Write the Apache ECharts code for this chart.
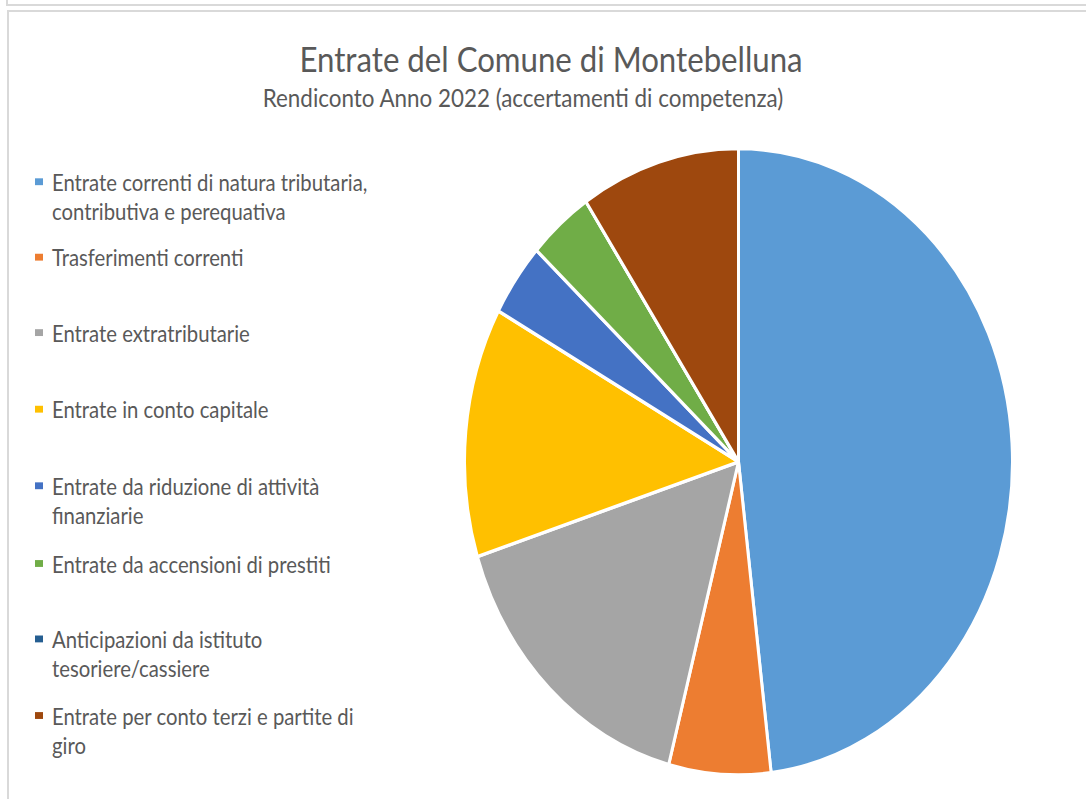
<!doctype html>
<html lang="it">
<head>
<meta charset="UTF-8">
<title>Entrate del Comune di Montebelluna</title>
<script src="https://cdn.jsdelivr.net/npm/echarts@6/dist/echarts.min.js"></script>
<style>
    html, body { margin: 0; padding: 0; background: #fff; }
    body { width: 1086px; height: 799px; position: relative; overflow: hidden; }
    .line { position: absolute; background: #d9d9d9; }
    /* the reference is stretched vertically, so the chart is drawn at 699px and scaled */
    #main { position: absolute; left: 0; top: 0; width: 1086px; height: 699px;
            transform: scaleY(1.143); transform-origin: 0 0; }
</style>
</head>
<body>
<div id="main"></div>
<!-- cornici -->
<div class="line" style="left:6px;top:0;width:2px;height:6px"></div>
<div class="line" style="left:6px;top:4px;width:1080px;height:2px"></div>
<div class="line" style="left:7px;top:10px;width:1079px;height:2px"></div>
<div class="line" style="left:7px;top:10px;width:2px;height:789px"></div>
<script type="text/javascript">
    // dati (quote percentuali)
    var categorie = [
        'Entrate correnti di natura tributaria, contributiva e perequativa',
        'Trasferimenti correnti',
        'Entrate extratributarie',
        'Entrate in conto capitale',
        'Entrate da riduzione di attività finanziarie',
        'Entrate da accensioni di prestiti',
        'Anticipazioni da istituto tesoriere/cassiere',
        'Entrate per conto terzi e partite di giro'
    ];
    var etichette = [
        'Entrate correnti di natura tributaria,\ncontributiva e perequativa',
        'Trasferimenti correnti',
        'Entrate extratributarie',
        'Entrate in conto capitale',
        'Entrate da riduzione di attività\nfinanziarie',
        'Entrate da accensioni di prestiti',
        'Anticipazioni da istituto\ntesoriere/cassiere',
        'Entrate per conto terzi e partite di\ngiro'
    ];
    var valori = [48.1, 6.0, 16.0, 12.9, 3.8, 3.8, 0, 9.4];
    var colori = ['#5B9BD5', '#ED7D31', '#A5A5A5', '#FFC000', '#4472C4', '#70AD47', '#255E91', '#9E480E'];

    // posizione verticale (centro prima riga) di ogni voce di legenda
    var legendaY = [159, 225, 291, 358, 425, 493, 559, 626];

    var font = 'Lato';
    var LH = 25.4;
    var chart = echarts.init(document.getElementById('main'), null, {renderer: 'svg'});

    var legende = categorie.map(function (nome, i) {
        var dueRighe = etichette[i].indexOf('\n') >= 0;
        return {
            orient: 'vertical',
            left: 35,
            top: legendaY[i] - (dueRighe ? 1.5 : 0.5) * LH,
            padding: 0,
            data: [nome],
            itemWidth: 8,
            itemHeight: 6,
            icon: 'rect',
            selectedMode: false,
            itemStyle: {borderWidth: 0},
            // riga vuota davanti: l'icona resta allineata alla prima riga
            formatter: function () { return dueRighe ? '\n' + etichette[i] : etichette[i]; },
            textStyle: {
                fontFamily: font, fontSize: 20.3, color: '#595959', lineHeight: LH,
                padding: [0, 0, 0, 4]
            }
        };
    });

    var option = {
        backgroundColor: '#fff',
        color: colori,
        title: [{
            text: 'Entrate del Comune di Montebelluna',
            left: 551, top: 32.8, textAlign: 'center', padding: 0,
            textStyle: {fontFamily: font, fontSize: 31.2, fontWeight: 'normal', color: '#595959', lineHeight: 36}
        }, {
            text: 'Rendiconto Anno 2022 (accertamenti di competenza)',
            left: 523, top: 71.8, textAlign: 'center', padding: 0,
            textStyle: {fontFamily: font, fontSize: 22.4, fontWeight: 'normal', color: '#595959', lineHeight: 26}
        }],
        legend: legende,
        series: [{
            type: 'pie',
            center: [738.5, 404],
            radius: ['0%', 274],
            startAngle: 90,
            clockwise: true,
            silent: true,
            label: {show: false},
            labelLine: {show: false},
            itemStyle: {borderColor: '#fff', borderWidth: 3},
            data: categorie.map(function (nome, i) {
                return {name: nome, value: valori[i]};
            })
        }]
    };
    chart.setOption(option);
</script>
</body>
</html>
